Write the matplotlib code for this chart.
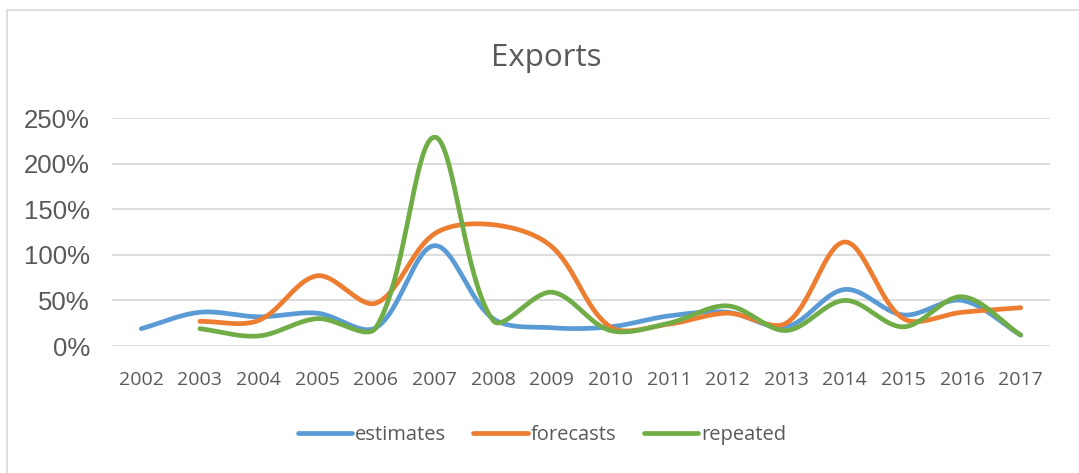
import numpy as np
import matplotlib.pyplot as plt
from matplotlib.ticker import FuncFormatter

years = [str(y) for y in range(2002, 2018)]
estimates = [0.19, 0.37, 0.32, 0.36, 0.20, 1.10, 0.30, 0.20, 0.21, 0.33, 0.37, 0.21, 0.62, 0.34, 0.50, 0.12]
forecasts = [None, 0.27, 0.28, 0.77, 0.47, 1.23, 1.33, 1.09, 0.21, 0.24, 0.36, 0.25, 1.14, 0.30, 0.37, 0.42]
repeated = [None, 0.19, 0.11, 0.30, 0.20, 2.29, 0.28, 0.59, 0.17, 0.25, 0.44, 0.17, 0.50, 0.21, 0.54, 0.12]

colors = ['#5B9BD5', '#ED7D31', '#70AD47']
names = ['estimates', 'forecasts', 'repeated']
gray = '#595959'

# pixel scale of the plot area, used so the smoothing behaves like in screen space
XPX = 938 / 16
YPX = 228 / 2.5


def smooth(xs, ys, n=40):
    # Excel-style smoothed line: cubic bezier, tangent split by segment lengths
    p = np.column_stack([np.asarray(xs, float) * XPX, np.asarray(ys, float) * YPX])
    m = len(p)
    outx, outy = [], []
    cin, cout = [], []
    for i in range(m):
        a = p[max(i - 1, 0)]
        b = p[min(i + 1, m - 1)]
        tan = b - a
        d1 = np.hypot(*(p[i] - a))
        d2 = np.hypot(*(b - p[i]))
        tot = d1 + d2 if d1 + d2 > 0 else 1
        cin.append(p[i] - tan * d1 / tot / 3)
        cout.append(p[i] + tan * d2 / tot / 3)
    t = np.linspace(0, 1, n)[:, None]
    for i in range(m - 1):
        seg = ((1 - t) ** 3 * p[i] + 3 * t * (1 - t) ** 2 * cout[i]
               + 3 * t ** 2 * (1 - t) * cin[i + 1] + t ** 3 * p[i + 1])
        outx.extend(seg[:, 0] / XPX)
        outy.extend(seg[:, 1] / YPX)
    return outx, outy


fig = plt.figure(figsize=(10.79, 4.73), dpi=100)
ax = fig.add_axes([112 / 1079, 1 - 346 / 473, 938 / 1079, 228 / 473])

for vals, col, name in zip([estimates, forecasts, repeated], colors, names):
    xs = [i for i, v in enumerate(vals) if v is not None]
    ys = [v for v in vals if v is not None]
    sx, sy = smooth(xs, ys)
    ax.plot(sx, sy, color=col, lw=3.4, solid_capstyle='round', label=name, zorder=3)

ax.set_xlim(-0.5, len(years) - 0.5)
ax.set_ylim(0, 2.5)
ax.set_yticks([0, 0.5, 1.0, 1.5, 2.0, 2.5])
ax.yaxis.set_major_formatter(FuncFormatter(lambda v, p: f'{v * 100:.0f}%'))
ax.set_xticks(range(len(years)))
ax.set_xticklabels(years, fontfamily='Open Sans', fontsize=14, color=gray)
for lab in ax.get_yticklabels():
    lab.set_fontfamily('Liberation Sans')
    lab.set_fontsize(18.5)
    lab.set_color(gray)
ax.tick_params(length=0)
ax.tick_params(axis='y', pad=16)
ax.tick_params(axis='x', pad=18)
ax.grid(axis='y', color='#D9D9D9', lw=1.3)
ax.set_axisbelow(True)
for s in ax.spines.values():
    s.set_visible(False)

fig.text(546 / 1079, 1 - 58 / 473, 'Exports', ha='center', va='center',
         fontfamily='Open Sans', fontsize=22.5, color=gray)

leg = fig.legend(loc='center', bbox_to_anchor=(542 / 1079, 1 - 435 / 473), ncol=3,
                 frameon=False, handlelength=2.7, handletextpad=0.15, columnspacing=1.35,
                 prop={'family': 'Open Sans', 'size': 14.5})
for t in leg.get_texts():
    t.set_color(gray)

# chart area border (left and top edges visible)
fig.add_artist(plt.Line2D([7 / 1079, 7 / 1079], [0, 1 - 10 / 473], color='#D9D9D9', lw=1.2))
fig.add_artist(plt.Line2D([7 / 1079, 1], [1 - 10 / 473, 1 - 10 / 473], color='#D9D9D9', lw=1.2))

fig.savefig('out.png', dpi=100)
